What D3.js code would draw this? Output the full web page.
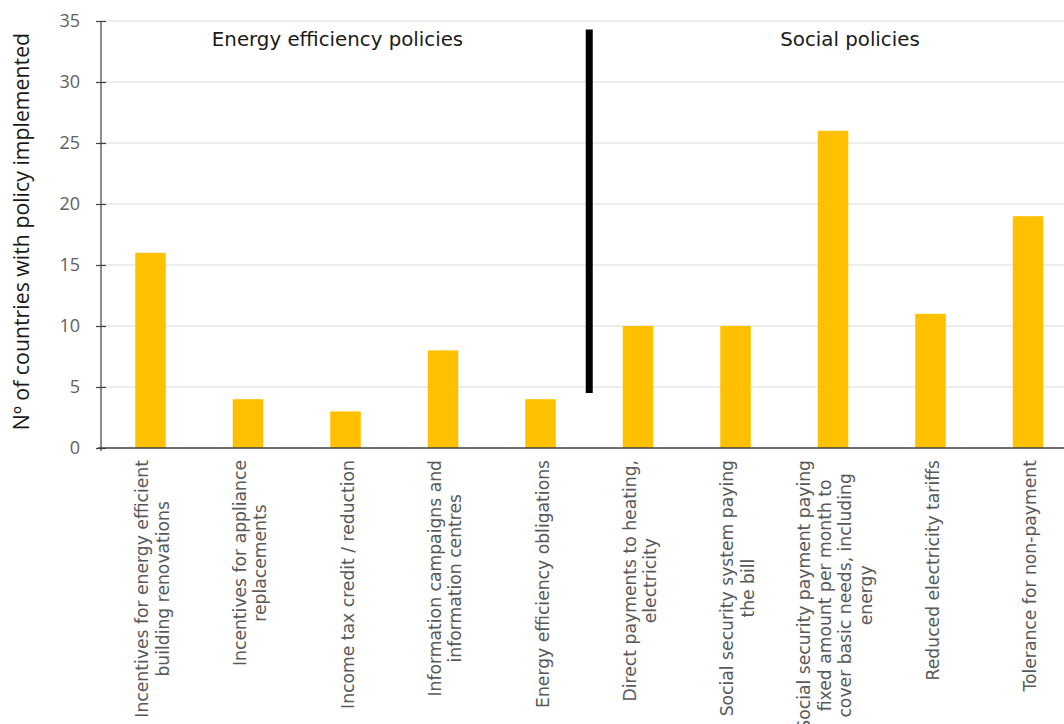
<!DOCTYPE html>
<html>
<head>
<meta charset="utf-8">
<script src="https://cdn.jsdelivr.net/npm/d3@7"></script>
<style>
  html, body { margin: 0; padding: 0; background: #ffffff; }
  svg { display: block; }
</style>
</head>
<body>
<svg id="chart" width="1064" height="724"></svg>
<script>
const categories = [
  ["Incentives for energy efficient", "building renovations"],
  ["Incentives for appliance", "replacements"],
  ["Income tax credit / reduction"],
  ["Information campaigns and", "information centres"],
  ["Energy efficiency obligations"],
  ["Direct payments to heating,", "electricity"],
  ["Social security system paying", "the bill"],
  ["Social security payment paying", "fixed amount per month to", "cover basic needs, including", "energy"],
  ["Reduced electricity tariffs"],
  ["Tolerance for non-payment"]
];
const values = [16, 4, 3, 8, 4, 10, 10, 26, 11, 19];
const yTicks = [0, 5, 10, 15, 20, 25, 30, 35];
const groupTitles = ["Energy efficiency policies", "Social policies"];
const yTitle = "Nº of countries with policy implemented";
const separator = { after: 4, from: 4.5, to: 34.3 };

const svg = d3.select("#chart");
const W = 1064;
const plotLeft = 101, plotTop = 21, plotBottom = 448;

const keys = categories.map((c, i) => i);
const x = d3.scaleBand()
  .domain(keys)
  .range([101.75, 1076.75])
  .paddingInner(0.687)
  .paddingOuter(0.3435);
const y = d3.scaleLinear().domain([0, 35]).range([plotBottom, plotTop]);

// gridlines
svg.append("g")
  .selectAll("line")
  .data(yTicks.filter(t => t > 0))
  .join("line")
  .attr("x1", plotLeft).attr("x2", W)
  .attr("y1", d => y(d)).attr("y2", d => y(d))
  .attr("stroke", "#d9d9d9").attr("stroke-width", 1.2);

// bars
svg.append("g")
  .selectAll("rect")
  .data(values)
  .join("rect")
  .attr("x", (d, i) => x(i))
  .attr("width", x.bandwidth())
  .attr("y", d => y(d))
  .attr("height", d => y(0) - y(d))
  .attr("fill", "#ffc000");

// y axis
const yAxis = svg.append("g")
  .attr("transform", `translate(${plotLeft},0)`)
  .call(d3.axisLeft(y).tickValues(yTicks).tickSize(5).tickPadding(16).tickFormat(d3.format("d")));
yAxis.select(".domain").attr("stroke", "#404040").attr("stroke-width", 1.2).attr("d", `M0,${plotTop}V${plotBottom + 3}`);
yAxis.selectAll(".tick line").attr("stroke", "#404040").attr("stroke-width", 1.2).attr("x1", 5);
yAxis.selectAll(".tick text")
  .attr("fill", "#606060")
  .style("font-family", "'Open Sans', sans-serif")
  .style("font-size", "18px");

// x axis baseline
svg.append("line")
  .attr("x1", plotLeft - 3).attr("x2", W)
  .attr("y1", y(0)).attr("y2", y(0))
  .attr("stroke", "#404040").attr("stroke-width", 1.4);

// x labels (rotated, multi-line, centered)
const lineH = 20.5;
const labelG = svg.append("g");
categories.forEach((lines, i) => {
  const cx = x(i) + x.bandwidth() / 2 + 2;
  const g = labelG.append("g")
    .attr("transform", `translate(${cx},${plotBottom + 12}) rotate(-90)`);
  const n = lines.length;
  const texts = lines.map((ln, j) => g.append("text")
    .attr("x", 0)
    .attr("y", (j - (n - 1) / 2) * lineH)
    .attr("dy", "0.35em")
    .attr("text-anchor", "middle")
    .attr("fill", "#595959")
    .style("font-family", "'DejaVu Sans', Verdana, sans-serif")
    .style("font-size", "17.2px")
    .text(ln));
  const maxW = d3.max(texts, t => t.node().getComputedTextLength());
  texts.forEach(t => t.attr("x", -maxW / 2));
});

// separator
const sepX = (x(separator.after) + x.bandwidth() + x(separator.after + 1)) / 2;
svg.append("line")
  .attr("x1", sepX).attr("x2", sepX)
  .attr("y1", y(separator.to)).attr("y2", y(separator.from))
  .attr("stroke", "#000").attr("stroke-width", 7);

// group titles
const c1 = (x(0) + x(4) + x.bandwidth()) / 2 - 8;
const c2 = (x(5) + x(9) + x.bandwidth()) / 2 + 17;
[c1, c2].forEach((cx, i) => {
  svg.append("text")
    .attr("x", cx).attr("y", 46)
    .attr("text-anchor", "middle")
    .attr("fill", "#1a1a1a")
    .style("font-family", "'DejaVu Sans', Verdana, sans-serif")
    .style("font-size", "19.8px")
    .text(groupTitles[i]);
});

// y title
svg.append("text")
  .attr("transform", `translate(29,${(plotTop + plotBottom) / 2 - 3}) rotate(-90)`)
  .attr("text-anchor", "middle")
  .attr("fill", "#1a1a1a")
  .style("font-family", "'Open Sans', sans-serif")
  .style("font-size", "21.3px")
  .text(yTitle);
</script>
</body>
</html>
